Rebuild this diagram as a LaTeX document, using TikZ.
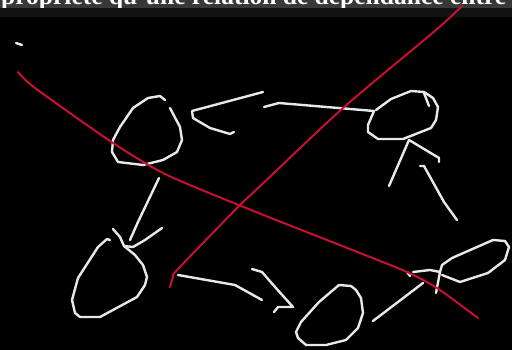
\documentclass[tikz,border=0pt]{standalone}
\usepackage{fontspec}
\setmainfont{Liberation Serif}
\usepackage{tikz}

\definecolor{pen}{RGB}{200,16,48}
\definecolor{chalk}{RGB}{232,232,232}
\tikzset{
	chalkline/.style={draw=chalk, line width=2.4pt, line cap=round, line join=round},
	redline/.style={draw=pen, line width=2pt, line cap=round, line join=round},
}

\begin{document}
\begin{tikzpicture}[x=1pt, y=-1pt]
		\useasboundingbox (0,0) rectangle (512,350);
		\fill[black] (0,0) rectangle (512,350);
		\fill[black!78] (0,0) rectangle (512,8);
		\fill[black!93] (0,8) rectangle (512,17);
		\begin{scope}
			\clip (0,0) rectangle (512,8);
			\node[anchor=base west, inner sep=0pt, text=white, font=\fontsize{25.5}{26}\selectfont\bfseries] (caption) at (1,4.8) {propriété qu'une relation de dépendance entre};
		\end{scope}

		\draw[chalkline] (16,43) -- (22,45);
		\draw[chalkline] (165,100) -- (160,96) -- (148,98) -- (133,108) -- (120,127) -- (113,140) -- (112,152) -- (118,162) -- (143,165) -- (163,160) -- (177,152) -- (182,140) -- (180,127) -- (170,108);
		\draw[chalkline] (263,92) -- (192,111) -- (193,118) -- (210,128) -- (230,134) -- (234,132);
		\draw[chalkline] (264,107) -- (279,103) -- (374,111);
		\draw[chalkline] (374,111) -- (368,125) -- (368,132) -- (378,139) -- (403,139) -- (431,128) -- (436,120) -- (438,107) -- (433,98) -- (424,92) -- (411,91) -- (391,99) -- (376,110);
		\draw[chalkline] (424,93) -- (429,106);
		\draw[chalkline] (389,186) -- (409,140) -- (439,158) -- (439,162);
		\draw[chalkline] (420,166) -- (424,166) -- (444,202) -- (457,220);

		\draw[chalkline] (159,178) -- (138,222) -- (130,240);
		\draw[chalkline] (162,228) -- (145,240) -- (133,247) -- (124,246);
		\draw[chalkline] (110,240) -- (107,239) -- (98,247) -- (78,278) -- (72,300) -- (75,313) -- (80,317) -- (100,317) -- (137,297) -- (145,285) -- (147,277) -- (143,265) -- (135,255) -- (124,246) -- (120,237) -- (113,229);
		\draw[chalkline] (178,275) -- (235,285) -- (262,300);
		\draw[chalkline] (252,269) -- (262,272) -- (275,287) -- (293,307) -- (278,307) -- (274,312);
		\draw[chalkline] (339,285) -- (351,286) -- (356,290) -- (361,298) -- (363,313) -- (358,328) -- (346,340) -- (326,345) -- (306,345) -- (298,338) -- (296,332) -- (301,322) -- (319,302) -- cycle;
		\draw[chalkline] (407,272) -- (410,276);
		\draw[chalkline] (413,272) -- (430,270) -- (440,272) -- (436,293);
		\draw[chalkline] (440,272) -- (442,265) -- (452,258) -- (493,240) -- (505,241) -- (509,247) -- (505,260) -- (488,273) -- (460,282) -- (442,275);
		\draw[chalkline] (373,321) -- (423,283);

		\draw[redline] plot[smooth, tension=0.4] coordinates {(18,72) (35,88) (113,143) (167,175) (256,212) (360,253) (407,272) (437,288) (478,318)};
		\draw[redline] plot[smooth, tension=0.4] coordinates {(462,6) (436,30) (343,108) (256,190) (240,205) (177,270) (173,277) (170,287)};
	\end{tikzpicture}
\end{document}
